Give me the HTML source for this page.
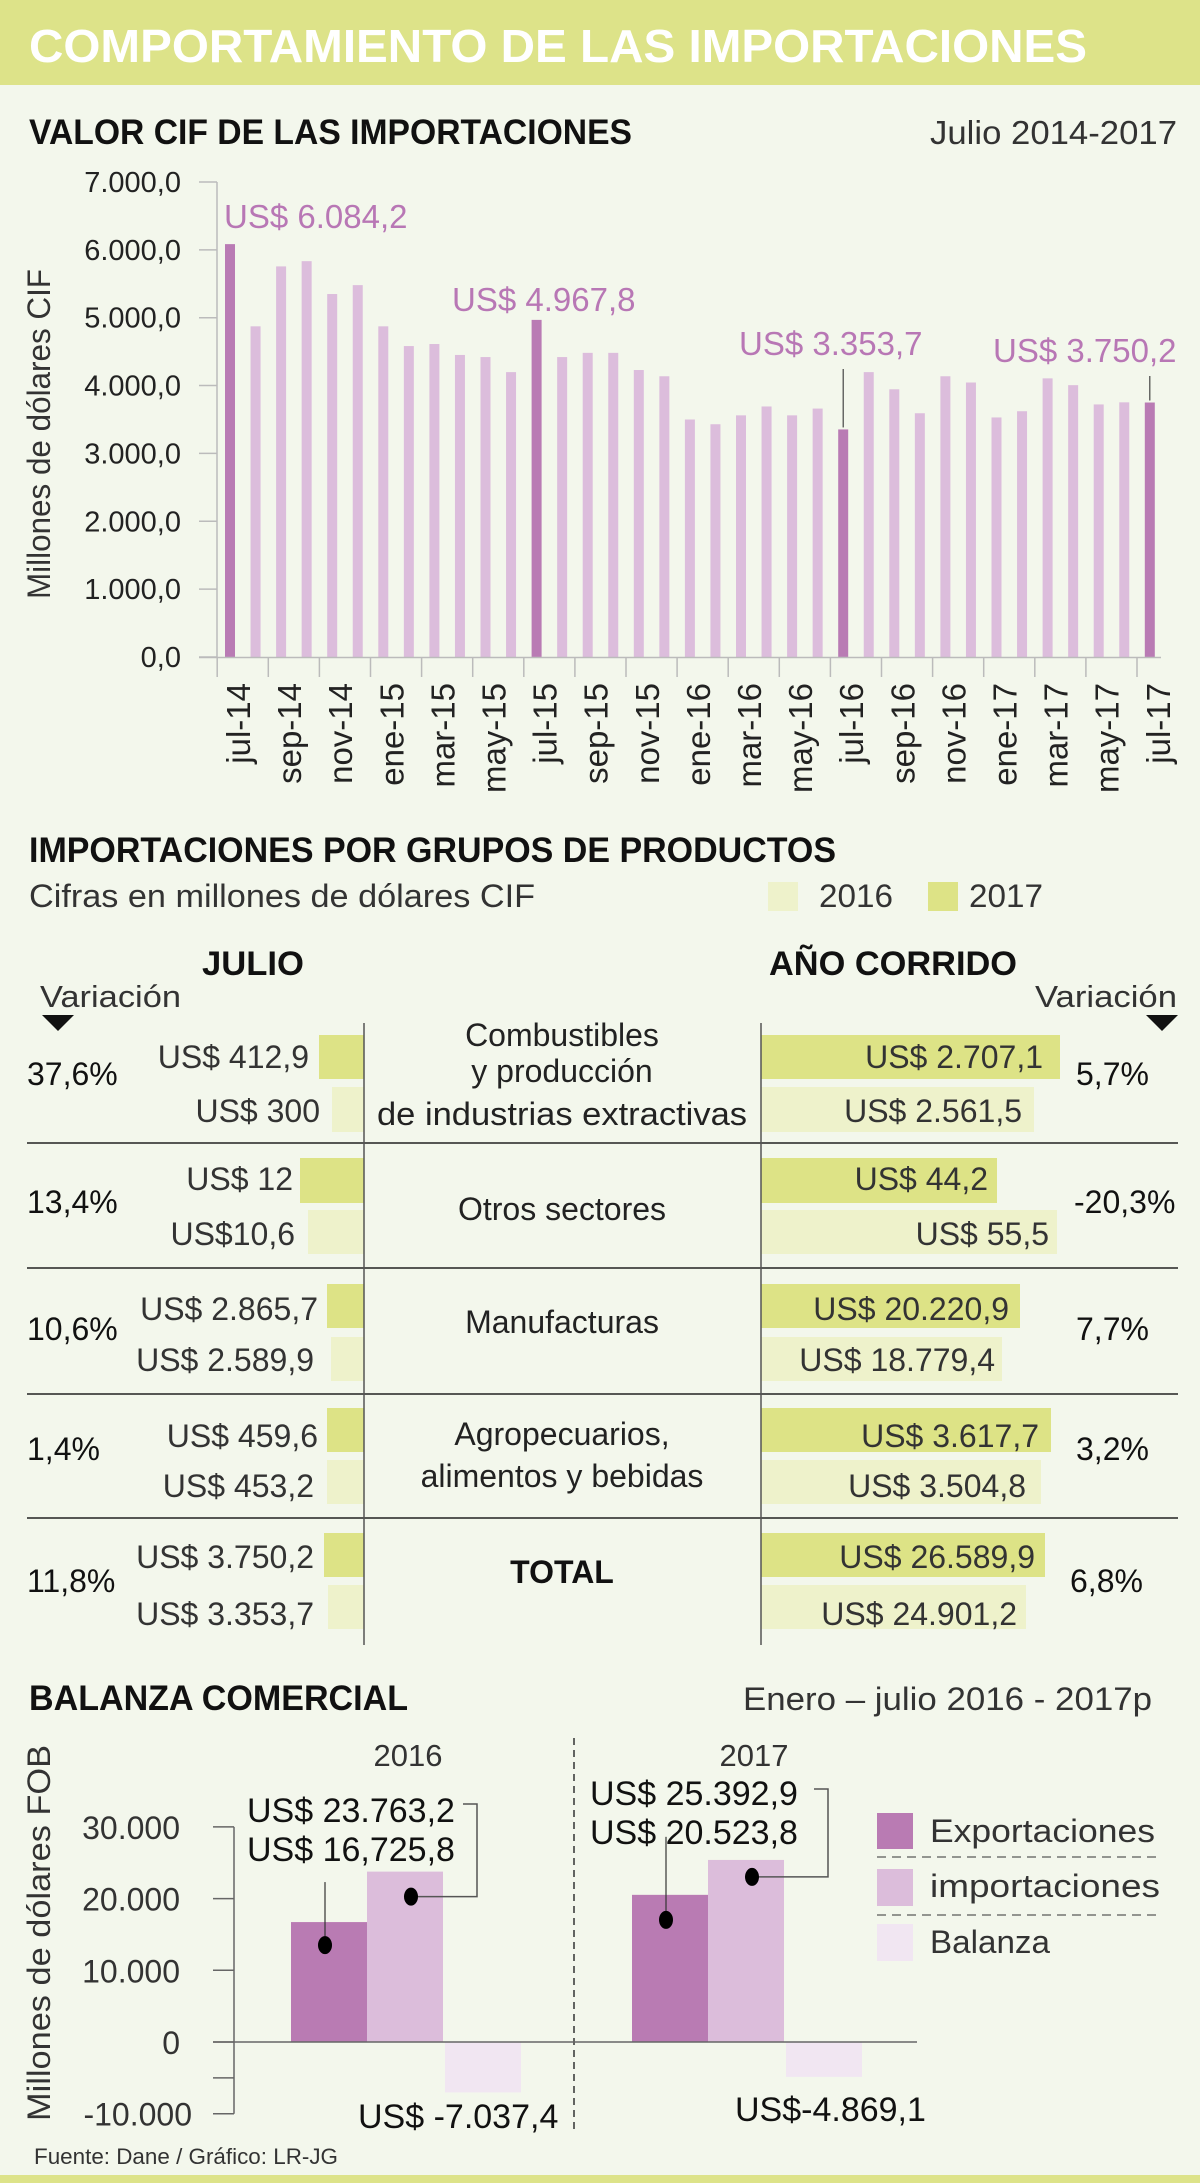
<!DOCTYPE html>
<html><head><meta charset="utf-8"><style>
html,body{margin:0;padding:0;background:#f3f7ec}
svg{display:block}
text{font-family:"Liberation Sans",sans-serif}
</style></head><body>
<svg id="root" width="1200" height="2183" viewBox="0 0 1200 2183" xmlns="http://www.w3.org/2000/svg">
<rect x="0" y="0" width="1200" height="2183" fill="#f3f7ec"/>
<rect x="0" y="0" width="1200" height="85" fill="#dde389"/>
<text x="29" y="62" font-size="46" font-weight="bold" fill="#fff" textLength="1058" lengthAdjust="spacingAndGlyphs">COMPORTAMIENTO DE LAS IMPORTACIONES</text>

<!-- Section 1 -->
<text x="29" y="144" font-size="35" font-weight="bold" fill="#111" textLength="603" lengthAdjust="spacingAndGlyphs">VALOR CIF DE LAS IMPORTACIONES</text>
<text x="1177" y="144" font-size="33" fill="#333" text-anchor="end" textLength="247" lengthAdjust="spacingAndGlyphs">Julio 2014-2017</text>
<g id="cif"></g>
<text transform="translate(50,434) rotate(-90)" font-size="32" fill="#333" text-anchor="middle" textLength="330" lengthAdjust="spacingAndGlyphs">Millones de dólares CIF</text>

<!-- Section 2 -->
<text x="29" y="862" font-size="35" font-weight="bold" fill="#111" textLength="807" lengthAdjust="spacingAndGlyphs">IMPORTACIONES POR GRUPOS DE PRODUCTOS</text>
<text x="29" y="907" font-size="32" fill="#333" textLength="506" lengthAdjust="spacingAndGlyphs">Cifras en millones de dólares CIF</text>
<rect x="768" y="882" width="30" height="29" fill="#eef2cb"/>
<text x="819" y="907" font-size="32" fill="#333" textLength="74" lengthAdjust="spacingAndGlyphs">2016</text>
<rect x="928" y="882" width="30" height="29" fill="#dde386"/>
<text x="969" y="907" font-size="32" fill="#333" textLength="74" lengthAdjust="spacingAndGlyphs">2017</text>

<text x="253" y="975" font-size="34" font-weight="bold" fill="#111" text-anchor="middle" textLength="102" lengthAdjust="spacingAndGlyphs">JULIO</text>
<text x="893" y="975" font-size="34" font-weight="bold" fill="#111" text-anchor="middle" textLength="248" lengthAdjust="spacingAndGlyphs">AÑO CORRIDO</text>
<text x="40" y="1007" font-size="31" fill="#333" textLength="141" lengthAdjust="spacingAndGlyphs">Variación</text>
<text x="1177" y="1007" font-size="31" fill="#333" text-anchor="end" textLength="142" lengthAdjust="spacingAndGlyphs">Variación</text>
<polygon points="42,1015 74,1015 58,1031" fill="#111"/>
<polygon points="1146,1015 1178,1015 1162,1031" fill="#111"/>

<g>
<rect x="319" y="1035" width="45" height="44" fill="#dde386"/><rect x="332" y="1087" width="32" height="45" fill="#eef2cb"/>
<rect x="761" y="1035" width="299" height="44" fill="#dde386"/><rect x="761" y="1087" width="273" height="45" fill="#eef2cb"/>
<rect x="300" y="1158" width="64" height="45" fill="#dde386"/><rect x="308" y="1210" width="56" height="44" fill="#eef2cb"/>
<rect x="761" y="1158" width="236" height="45" fill="#dde386"/><rect x="761" y="1210" width="296" height="44" fill="#eef2cb"/>
<rect x="327" y="1284" width="37" height="44" fill="#dde386"/><rect x="331" y="1337" width="33" height="44" fill="#eef2cb"/>
<rect x="761" y="1284" width="259" height="44" fill="#dde386"/><rect x="761" y="1337" width="241" height="44" fill="#eef2cb"/>
<rect x="327" y="1408" width="37" height="44" fill="#dde386"/><rect x="327" y="1460" width="37" height="44" fill="#eef2cb"/>
<rect x="761" y="1408" width="290" height="44" fill="#dde386"/><rect x="761" y="1460" width="280" height="44" fill="#eef2cb"/>
<rect x="324" y="1533" width="40" height="44" fill="#dde386"/><rect x="328" y="1585" width="36" height="44" fill="#eef2cb"/>
<rect x="761" y="1533" width="284" height="44" fill="#dde386"/><rect x="761" y="1585" width="265" height="44" fill="#eef2cb"/>
</g>
<g stroke="#222" stroke-width="1.5">
<line x1="27" y1="1143" x2="1178" y2="1143"/><line x1="27" y1="1268" x2="1178" y2="1268"/>
<line x1="27" y1="1394" x2="1178" y2="1394"/><line x1="27" y1="1518" x2="1178" y2="1518"/>
</g>
<g stroke="#555" stroke-width="1.5">
<line x1="364" y1="1023" x2="364" y2="1645"/><line x1="761" y1="1023" x2="761" y2="1645"/>
</g>

<g font-size="32" fill="#333">
<text x="309" y="1068" text-anchor="end">US$ 412,9</text>
<text x="320" y="1122" text-anchor="end">US$ 300</text>
<text x="1043" y="1068" text-anchor="end">US$ 2.707,1</text>
<text x="1022" y="1122" text-anchor="end">US$ 2.561,5</text>
<text x="293" y="1190" text-anchor="end">US$ 12</text>
<text x="295" y="1245" text-anchor="end">US$10,6</text>
<text x="988" y="1190" text-anchor="end">US$ 44,2</text>
<text x="1049" y="1245" text-anchor="end">US$ 55,5</text>
<text x="318" y="1320" text-anchor="end">US$ 2.865,7</text>
<text x="314" y="1371" text-anchor="end">US$ 2.589,9</text>
<text x="1009" y="1320" text-anchor="end">US$ 20.220,9</text>
<text x="995" y="1371" text-anchor="end">US$ 18.779,4</text>
<text x="318" y="1447" text-anchor="end">US$ 459,6</text>
<text x="314" y="1497" text-anchor="end">US$ 453,2</text>
<text x="1039" y="1447" text-anchor="end">US$ 3.617,7</text>
<text x="1026" y="1497" text-anchor="end">US$ 3.504,8</text>
<text x="314" y="1568" text-anchor="end">US$ 3.750,2</text>
<text x="314" y="1625" text-anchor="end">US$ 3.353,7</text>
<text x="1035" y="1568" text-anchor="end">US$ 26.589,9</text>
<text x="1017" y="1625" text-anchor="end">US$ 24.901,2</text>
</g>
<g font-size="32" fill="#111">
<text x="27" y="1085">37,6%</text><text x="1076" y="1085">5,7%</text>
<text x="27" y="1213">13,4%</text><text x="1074" y="1213">-20,3%</text>
<text x="27" y="1340">10,6%</text><text x="1076" y="1340">7,7%</text>
<text x="27" y="1460">1,4%</text><text x="1076" y="1460">3,2%</text>
<text x="27" y="1592">11,8%</text><text x="1070" y="1592">6,8%</text>
</g>
<g font-size="32" fill="#222" text-anchor="middle">
<text x="562" y="1046">Combustibles</text>
<text x="562" y="1082">y producción</text>
<text x="562" y="1125" textLength="370" lengthAdjust="spacingAndGlyphs">de industrias extractivas</text>
<text x="562" y="1220">Otros sectores</text>
<text x="562" y="1333">Manufacturas</text>
<text x="562" y="1445">Agropecuarios,</text>
<text x="562" y="1487">alimentos y bebidas</text>
<text x="562" y="1583" font-weight="bold" fill="#111">TOTAL</text>
</g>

<!-- Section 3 -->
<text x="29" y="1710" font-size="35" font-weight="bold" fill="#111" textLength="379" lengthAdjust="spacingAndGlyphs">BALANZA COMERCIAL</text>
<text x="1152" y="1710" font-size="32" fill="#333" text-anchor="end" textLength="409" lengthAdjust="spacingAndGlyphs">Enero – julio 2016 - 2017p</text>
<text transform="translate(50,1933) rotate(-90)" font-size="32" fill="#333" text-anchor="middle" textLength="376" lengthAdjust="spacingAndGlyphs">Millones de dólares FOB</text>
<line x1="574" y1="1738" x2="574" y2="2133" stroke="#333" stroke-width="1.5" stroke-dasharray="7,5"/>
<g id="bal"></g>

<g>
<rect x="877" y="1813" width="36" height="36" fill="#b97bb3"/>
<text x="930" y="1842" font-size="32" fill="#333" textLength="225" lengthAdjust="spacingAndGlyphs">Exportaciones</text>
<line x1="877" y1="1857" x2="1156" y2="1857" stroke="#333" stroke-dasharray="9,6"/>
<rect x="877" y="1869" width="36" height="37" fill="#dcbddb"/>
<text x="930" y="1897" font-size="32" fill="#333" textLength="230" lengthAdjust="spacingAndGlyphs">importaciones</text>
<line x1="877" y1="1915" x2="1156" y2="1915" stroke="#333" stroke-dasharray="9,6"/>
<rect x="877" y="1924" width="36" height="37" fill="#f1e6f2"/>
<text x="930" y="1953" font-size="32" fill="#333" textLength="120" lengthAdjust="spacingAndGlyphs">Balanza</text>
</g>
<text x="34" y="2164" font-size="22" fill="#333" textLength="304" lengthAdjust="spacingAndGlyphs">Fuente: Dane / Gráfico: LR-JG</text>
<rect x="0" y="2175" width="1200" height="8" fill="#dde389"/>
</svg>
<script>
// ---- CIF chart data ----
const months = ["jul-14","ago-14","sep-14","oct-14","nov-14","dic-14","ene-15","feb-15","mar-15","abr-15","may-15","jun-15","jul-15","ago-15","sep-15","oct-15","nov-15","dic-15","ene-16","feb-16","mar-16","abr-16","may-16","jun-16","jul-16","ago-16","sep-16","oct-16","nov-16","dic-16","ene-17","feb-17","mar-17","abr-17","may-17","jun-17","jul-17"];
const cifValues = [6084.2,4873,5756,5833,5349,5480,4873,4582,4612,4451,4420,4198,4967.8,4420,4482,4482,4229,4137,3500,3430,3561,3692,3561,3661,3353.7,4198,3945,3592,4137,4045,3530,3622,4106,4006,3722,3753,3750.2];
const cifTicks = [0,1000,2000,3000,4000,5000,6000,7000];
const cifTickLabels = ["0,0","1.000,0","2.000,0","3.000,0","4.000,0","5.000,0","6.000,0","7.000,0"];
const highlightIdx = [0,12,24,36];
const highlightLabels = ["US$ 6.084,2","US$ 4.967,8","US$ 3.353,7","US$ 3.750,2"];

// ---- Balanza data ----
const balYears = ["2016","2017"];
const exportsVals = [16725.8,20523.8];
const importsVals = [23763.2,25392.9];
const balanzaVals = [-7037.4,-4869.1];
const balTicks = [30000,20000,10000,0,-5000,-10000];
const balTickLabels = ["30.000","20.000","10.000","0","","-10.000"];
const balanzaLabels = ["US$ -7.037,4","US$-4.869,1"];
const importLabels = ["US$ 23.763,2","US$ 25.392,9"];
const exportLabels = ["US$ 16,725,8","US$ 20.523,8"];

const NS="http://www.w3.org/2000/svg";
function mk(tag,attrs,parent,txt){const e=document.createElementNS(NS,tag);for(const k in attrs)e.setAttribute(k,attrs[k]);if(txt!==undefined)e.textContent=txt;parent.appendChild(e);return e;}

const xC=i=>230+i*25.55;
const yC=v=>657-v*0.06786;
const cif=document.getElementById('cif');
let ax=mk('line',{x1:217,y1:yC(7000),x2:217,y2:657,stroke:'#bbb','stroke-width':1.5},cif);


cifTicks.forEach((t,k)=>{
  const tk=mk('line',{x1:199,y1:yC(t),x2:217,y2:yC(t),stroke:'#bbb','stroke-width':1.5},cif);
  
  
  const tl=mk('text',{x:181,y:yC(t)+10,'font-size':29,fill:'#222','text-anchor':'end'},cif,cifTickLabels[k]);
  
  
});
months.forEach((m,i)=>{
  const hl=highlightIdx.includes(i);
  const r=mk('rect',{x:xC(i)-5,y:yC(cifValues[i]),width:10,height:657-yC(cifValues[i]),fill:hl?'#b97bb4':'#dcbddc'},cif);
  
  
  if(i%2===0){
    const tk=mk('line',{x1:xC(i)-12.8,y1:657,x2:xC(i)-12.8,y2:677,stroke:'#bbb','stroke-width':1.5},cif);
    
    
    const lb=mk('text',{transform:`translate(${xC(i)+20},683) rotate(-90)`,'font-size':33,fill:'#222','text-anchor':'end'},cif,m);
    
    
  }
});
let bl=mk('line',{x1:199,y1:657.5,x2:1161,y2:657.5,stroke:'#bbb','stroke-width':1.5},cif);


const annX=[224,452,739,993], annY=[228,311,355,362];
highlightIdx.forEach((idx,k)=>{
  const t=mk('text',{x:annX[k],y:annY[k],'font-size':33,fill:'#b877b5'},cif,highlightLabels[k]);
  
  
  if(k>=2){
    const l=mk('line',{x1:xC(idx),y1:annY[k]+14,x2:xC(idx),y2:yC(cifValues[idx])-2,stroke:'#444','stroke-width':1.2},cif);
    
    
  }
});

const bal=document.getElementById('bal');
const yB=v=>2042-v*0.00717;
const groupX=[291,632], bw=76;
let bax=mk('line',{x1:234,y1:yB(30000),x2:234,y2:yB(-10000),stroke:'#666','stroke-width':1.5},bal);


balTicks.forEach((t,k)=>{
  const tk=mk('line',{x1:213,y1:yB(t),x2:234,y2:yB(t),stroke:'#666','stroke-width':1.5},bal);
  
  
  if(balTickLabels[k]){
    const tl=mk('text',{x:t<0?192:180,y:yB(t)+12,'font-size':32,fill:'#333','text-anchor':'end'},bal,balTickLabels[k]);
    
    
  }
});
balYears.forEach((yr,g)=>{
  const x0=groupX[g];
  const yl=mk('text',{x:x0+(g===0?117:122),y:1766,'font-size':31,fill:'#333','text-anchor':'middle'},bal,yr);
  
  
  const e=mk('rect',{x:x0,y:yB(exportsVals[g]),width:bw,height:yB(0)-yB(exportsVals[g]),fill:'#b97bb3'},bal);
  
  
  const im=mk('rect',{x:x0+bw,y:yB(importsVals[g]),width:bw,height:yB(0)-yB(importsVals[g]),fill:'#dcbddb'},bal);
  
  
  const b=mk('rect',{x:x0+2*bw+2,y:yB(0),width:bw,height:yB(balanzaVals[g])-yB(0),fill:'#f1e6f2'},bal);
  
  
  const ex=x0+34;
  const edY=yB(exportsVals[g])+(g===0?23:25);
  const l1=mk('line',{x1:ex,y1:yB(exportsVals[g])-(g===0?40:58),x2:ex,y2:edY,stroke:'#333','stroke-width':1.2},bal);
  
  
  const d1=mk('ellipse',{cx:ex,cy:edY,rx:7,ry:9,fill:'#000'},bal);
  
  
  const ix=x0+bw+44, iy=yB(importsVals[g])+(g===0?25:17);
  const bx=g===0?477:828, topY=g===0?1804:1789;
  const l2=mk('polyline',{points:`${ix},${iy} ${bx},${iy} ${bx},${topY} ${bx-14},${topY}`,fill:'none',stroke:'#555','stroke-width':1.5},bal);
  
  
  const d2=mk('ellipse',{cx:ix,cy:iy,rx:7,ry:9,fill:'#000'},bal);
  
  
  const lx=g===0?247:590, ly1=g===0?1822:1805;
  const t1=mk('text',{x:lx,y:ly1,'font-size':34,fill:'#111'},bal,importLabels[g]);
  
  
  const t2=mk('text',{x:lx,y:ly1+39,'font-size':34,fill:'#111'},bal,exportLabels[g]);
  
  
  const t3=mk('text',{x:g===0?358:735,y:g===0?2128:2121,'font-size':34,fill:'#111'},bal,balanzaLabels[g]);
  
  
});
let zl=mk('line',{x1:213,y1:yB(0),x2:917,y2:yB(0),stroke:'#666','stroke-width':1.5},bal);


</script>
</body></html>
